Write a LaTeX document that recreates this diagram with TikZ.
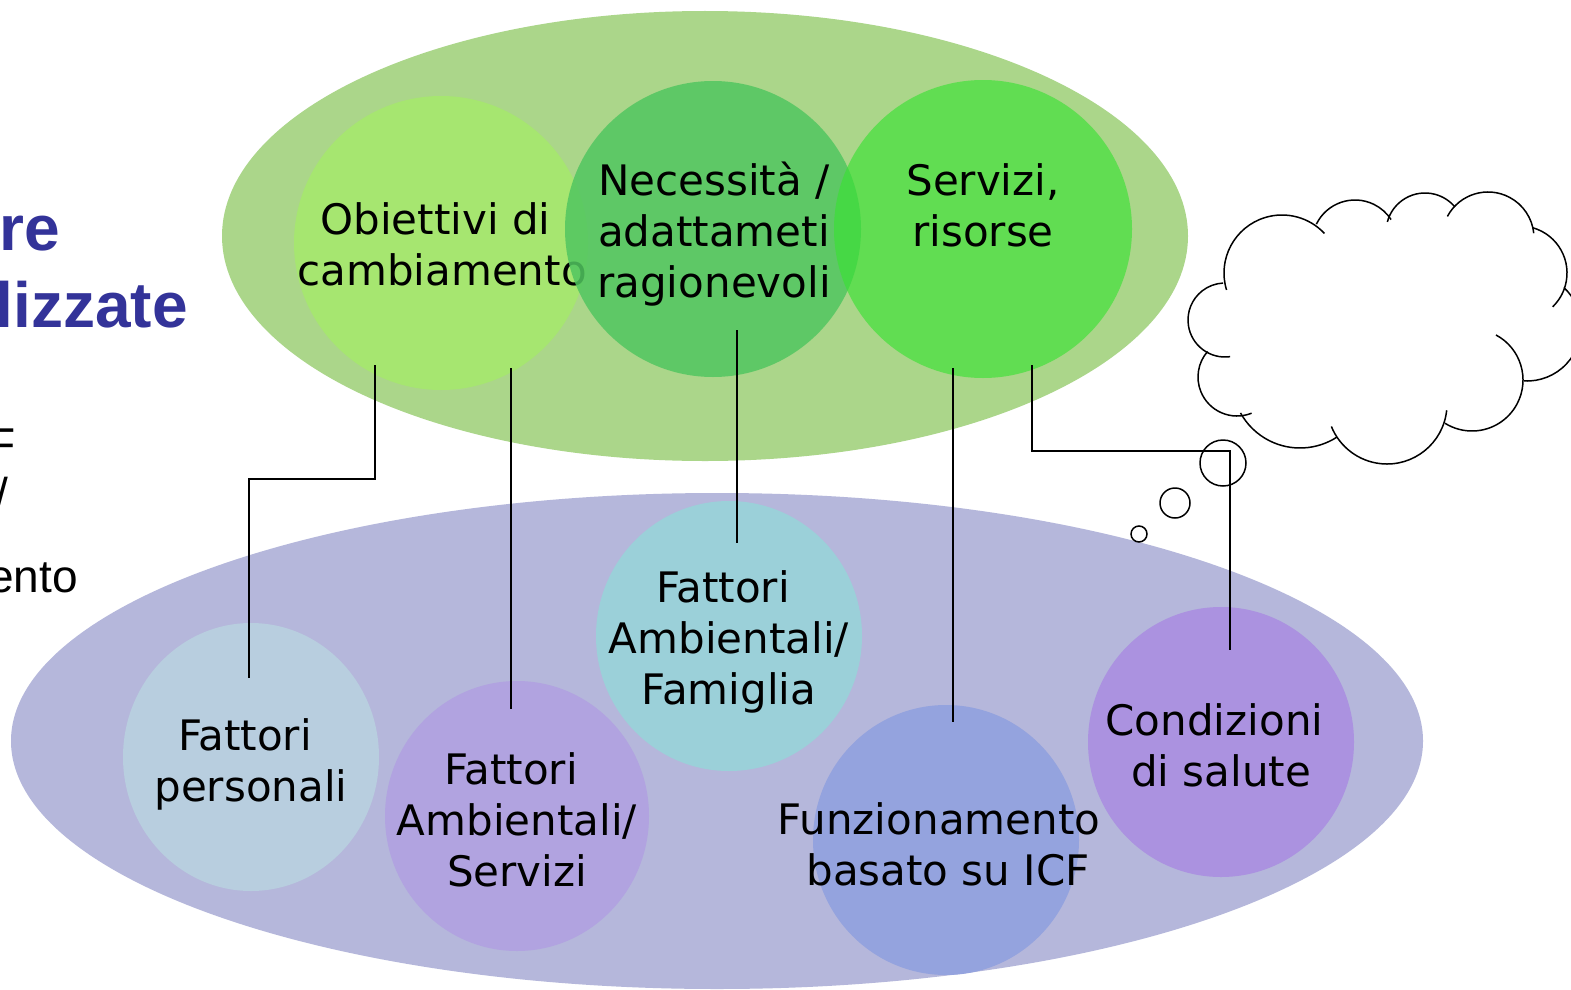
\documentclass[tikz,border=0pt]{standalone}
\usepackage{fontspec}
\setmainfont{DejaVu Sans}
\newfontfamily\arialfont{Liberation Sans}
\definecolor{greenbg}{RGB}{171,214,138}
\definecolor{purplebg}{RGB}{181,183,219}
\definecolor{obcol}{RGB}{166,230,112}
\definecolor{necol}{RGB}{81,198,96}
\definecolor{secol}{RGB}{58,225,52}
\definecolor{perscol}{RGB}{184,206,223}
\definecolor{servcol}{RGB}{177,163,224}
\definecolor{famcol}{RGB}{155,208,217}
\definecolor{funzcol}{RGB}{148,163,222}
\definecolor{condcol}{RGB}{171,146,224}
\definecolor{titleblue}{RGB}{51,51,153}
\begin{document}
\begin{tikzpicture}[x=1pt,y=-1pt,
  lbl/.style={align=center, font=\fontsize{42}{51}\selectfont, inner sep=0pt},
  conn/.style={line width=1.5pt, black},
  cloudline/.style={line width=1.5pt, black},
  side/.style={inner sep=0pt, anchor=base east}]
\useasboundingbox (0,0) rectangle (1571,990);
\clip (0,0) rectangle (1571,990);
\fill[white] (0,0) rectangle (1571,990);

% left slide text (cut off)
\node[side, font=\arialfont\bfseries\fontsize{64}{70}\selectfont, text=titleblue] (t1) at (60,250) {re};
\node[side, font=\arialfont\bfseries\fontsize{64}{70}\selectfont, text=titleblue] (t2) at (188,327) {lizzate};
\node[side, font=\arialfont\fontsize{46}{50}\selectfont] (t3) at (16,460) {F};
\node[side, font=\arialfont\fontsize{46}{50}\selectfont] (t4) at (8,510) {/};
\node[side, font=\arialfont\fontsize{46}{50}\selectfont] (t5) at (78,592) {ento};

% big ellipses
\fill[greenbg] (705,236) ellipse[x radius=483, y radius=225];
\fill[purplebg] (717,741) ellipse[x radius=706, y radius=248];

% top circles
\fill[obcol] (441,243) circle[radius=147];
\node[lbl] (obj) at (442,244) {Obiettivi di\kern13pt\\cambiamento};
\fill[necol, opacity=0.85] (713,229) circle[radius=148];
\fill[secol, opacity=0.65] (983,229) circle[radius=149];
\node[lbl] (nec) at (714,234) {Necessità /\\adattameti\\ragionevoli};
\node[lbl] (ser) at (983,205) {Servizi,\\risorse};

% bottom circles
\fill[perscol] (251,757) ellipse[x radius=128, y radius=134];
\fill[servcol] (517,816) ellipse[x radius=132, y radius=135];
\fill[famcol] (729,636) ellipse[x radius=133, y radius=135];
\fill[funzcol] (946,840) ellipse[x radius=133, y radius=135];
\fill[condcol] (1221,742) ellipse[x radius=133, y radius=135];
\node[lbl] (pers) at (251,764) {Fattori\kern12pt\\personali};
\node[lbl] (serv) at (517,820) {Fattori\kern12pt\\Ambientali/\\Servizi};
\node[lbl] (fam) at (729,642) {Fattori\kern12pt\\Ambientali/\\Famiglia};
\node[lbl] (funz) at (939,844) {Funzionamento\\\kern18pt basato su ICF};
\node[lbl] (cond) at (1221,745) {Condizioni\kern13pt\\di salute};

% cloud
\draw[cloudline] (1282,273) ++(163:58) arc[start angle=163, end angle=317, radius=58];
\draw[cloudline] (1355,243) ++(206:43) arc[start angle=206, end angle=327, radius=43];
\draw[cloudline] (1425,232) ++(195:39) arc[start angle=195, end angle=320, radius=39];
\draw[cloudline] (1488,238) ++(208:46) arc[start angle=208, end angle=354, radius=46];
\draw[cloudline] (1520,273) ++(286:47) arc[start angle=286, end angle=406, radius=47];
\draw[cloudline] (1527,327) ++(313:54) arc[start angle=313, end angle=453, radius=54];
\draw[cloudline] (1472,380) ++(298:51) arc[start angle=298, end angle=482, radius=51];
\draw[cloudline] (1387,404) ++(6:60) arc[start angle=6, end angle=158, radius=60];
\draw[cloudline] (1300,380) ++(57:68) arc[start angle=57, end angle=151, radius=68];
\draw[cloudline] (1237,377) ++(68:39) arc[start angle=68, end angle=221, radius=39];
\draw[cloudline] (1225,320) ++(82:37) arc[start angle=82, end angle=267, radius=37];
\draw[cloudline] (1223,463) circle[radius=23];
\draw[cloudline] (1175,503) circle[radius=15];
\draw[cloudline] (1139,534) circle[radius=8];

% connectors
\coordinate (a1) at (375,365); \coordinate (a2) at (249,678);
\coordinate (b1) at (511,368); \coordinate (b2) at (511,709);
\coordinate (c1) at (737,330); \coordinate (c2) at (737,543);
\coordinate (d1) at (953,368); \coordinate (d2) at (953,722);
\coordinate (e1) at (1032,365); \coordinate (e2) at (1230,650);
\draw[conn] (a1) -- (375,479) -- (249,479) -- (a2);
\draw[conn] (b1) -- (b2);
\draw[conn] (c1) -- (c2);
\draw[conn] (d1) -- (d2);
\draw[conn] (e1) -- (1032,451) -- (1230,451) -- (e2);
\end{tikzpicture}
\end{document}
